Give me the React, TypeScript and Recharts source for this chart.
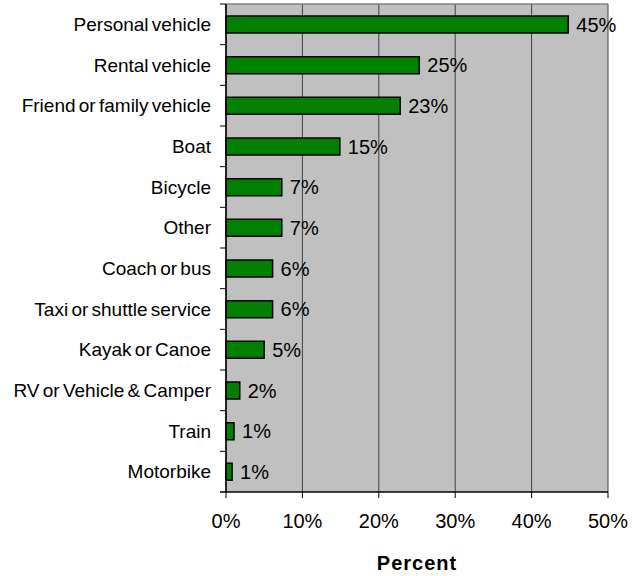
import React from "react";
import { BarChart, Bar, XAxis, YAxis, CartesianGrid, LabelList, Label } from "recharts";

const categories = [
  "Personal vehicle",
  "Rental vehicle",
  "Friend or family vehicle",
  "Boat",
  "Bicycle",
  "Other",
  "Coach or bus",
  "Taxi or shuttle service",
  "Kayak or Canoe",
  "RV or Vehicle & Camper",
  "Train",
  "Motorbike",
];
const percents = [44.8, 25.3, 22.8, 14.9, 7.3, 7.3, 6.1, 6.1, 5.0, 1.8, 1.05, 0.8];
const xTicks = [0, 10, 20, 30, 40, 50];

const data = categories.map((name, i) => ({ name, value: percents[i] }));

const W = 639;
const H = 576;
const MARGIN = { top: 4, right: 31, left: 0, bottom: 0 };
const Y_W = 226;
const X_H = 84;
const FONT = "'Liberation Sans', Arial, sans-serif";
const BAND = (H - MARGIN.top - MARGIN.bottom - X_H) / categories.length;

const CatTick = (props: any) => {
  const { x, y, payload, index } = props;
  const axisX = x + 8;
  const last = index === categories.length - 1;
  return (
    <g>
      <line x1={axisX - 6} x2={axisX} y1={y - BAND / 2} y2={y - BAND / 2} stroke="#000" strokeWidth={1} />
      {last && (
        <line x1={axisX - 6} x2={axisX} y1={y + BAND / 2} y2={y + BAND / 2} stroke="#000" strokeWidth={1.5} />
      )}
      <text
        x={axisX - 15}
        y={y}
        dy="0.35em"
        textAnchor="end"
        fontSize={19}
        fontFamily={FONT}
        fill="#000"
        style={{ wordSpacing: "-2px" }}
      >
        {payload.value}
      </text>
    </g>
  );
};

export default function App() {
  return (
    <div style={{ position: "absolute", left: 0, top: 0, width: W, height: H, background: "#fff" }}>
      <BarChart width={W} height={H} data={data} layout="vertical" margin={MARGIN}>
        <CartesianGrid
          horizontal={false}
          vertical={true}
          fill="#c0c0c0"
          stroke="#404040"
          strokeWidth={1}
          syncWithTicks
        />
        <CartesianGrid
          vertical={false}
          horizontal={true}
          stroke="#808080"
          strokeWidth={1.5}
          horizontalCoordinatesGenerator={(p: any) => [p.offset.top]}
        />
        <XAxis
          type="number"
          domain={[0, 50]}
          ticks={xTicks}
          tickFormatter={(v: number) => `${v}%`}
          height={X_H}
          tickSize={6}
          tickMargin={16}
          axisLine={{ stroke: "#000", strokeWidth: 1.5 }}
          tickLine={{ stroke: "#000" }}
          tick={{ fontSize: 20, fontFamily: FONT, fill: "#000" }}
          interval={0}
        >
          <Label
            value="Percent"
            position="insideBottom"
            offset={6}
            style={{ fontSize: 20, fontWeight: "bold", fontFamily: FONT, fill: "#000", letterSpacing: "1px" }}
          />
        </XAxis>
        <YAxis
          type="category"
          dataKey="name"
          width={Y_W}
          tickLine={false}
          axisLine={{ stroke: "#000", strokeWidth: 1.5 }}
          tick={<CatTick />}
          interval={0}
        />
        <Bar dataKey="value" fill="#008000" stroke="#000" strokeWidth={1.5} barSize={17} isAnimationActive={false}>
          <LabelList
            dataKey="value"
            position="right"
            offset={8}
            formatter={(v: any) => `${Math.round(Number(v))}%`}
            style={{ fontSize: 20, fontFamily: FONT, fill: "#000" }}
          />
        </Bar>
      </BarChart>
    </div>
  );
}
